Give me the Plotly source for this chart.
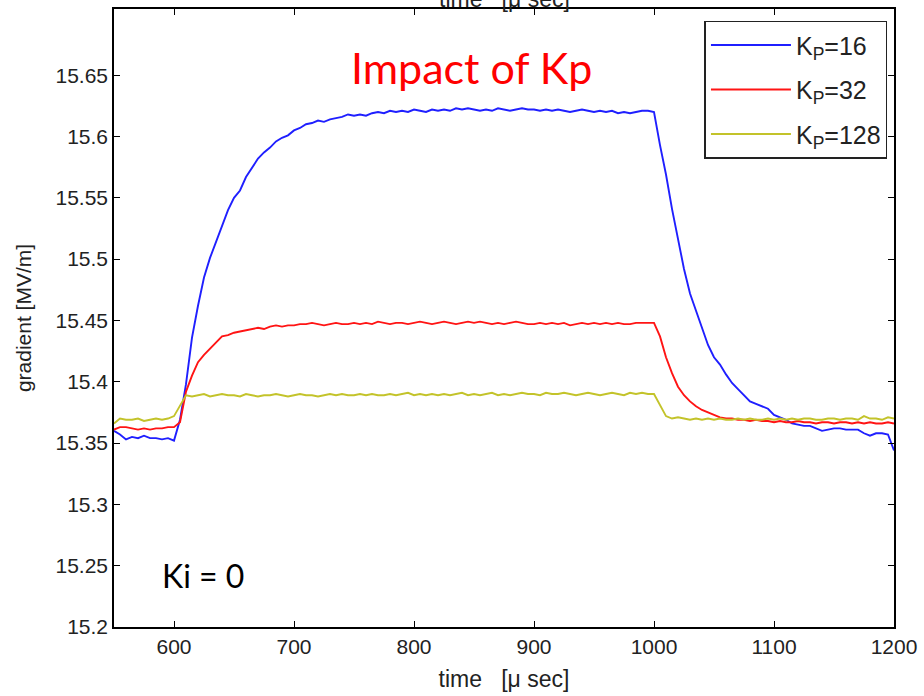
import plotly.graph_objects as go

# time axis in microseconds
TIME = [
    550, 555, 560, 565, 570, 575, 580, 585, 590, 595,
    600, 605, 610, 615, 620, 625, 630, 635, 640, 645,
    650, 655, 660, 665, 670, 675, 680, 685, 690, 695,
    700, 705, 710, 715, 720, 725, 730, 735, 740, 745,
    750, 755, 760, 765, 770, 775, 780, 785, 790, 795,
    800, 805, 810, 815, 820, 825, 830, 835, 840, 845,
    850, 855, 860, 865, 870, 875, 880, 885, 890, 895,
    900, 905, 910, 915, 920, 925, 930, 935, 940, 945,
    950, 955, 960, 965, 970, 975, 980, 985, 990, 995,
    1000, 1005, 1010, 1015, 1020, 1025, 1030, 1035, 1040, 1045,
    1050, 1055, 1060, 1065, 1070, 1075, 1080, 1085, 1090, 1095,
    1100, 1105, 1110, 1115, 1120, 1125, 1130, 1135, 1140, 1145,
    1150, 1155, 1160, 1165, 1170, 1175, 1180, 1185, 1190, 1195,
    1200,
]

# accelerating gradient [MV/m] for each proportional gain
GRAD_KP16 = [
    15.360, 15.357, 15.353, 15.355, 15.354, 15.356, 15.354, 15.354, 15.353, 15.354,
    15.352, 15.369, 15.398, 15.436, 15.462, 15.485, 15.501, 15.514, 15.526, 15.540,
    15.550, 15.556, 15.567, 15.575, 15.582, 15.587, 15.591, 15.596, 15.599, 15.601,
    15.605, 15.607, 15.610, 15.611, 15.613, 15.612, 15.614, 15.615, 15.616, 15.618,
    15.617, 15.618, 15.617, 15.619, 15.620, 15.619, 15.621, 15.620, 15.621, 15.620,
    15.622, 15.621, 15.620, 15.622, 15.621, 15.622, 15.621, 15.623, 15.622, 15.623,
    15.622, 15.621, 15.622, 15.621, 15.623, 15.622, 15.621, 15.622, 15.623, 15.622,
    15.622, 15.621, 15.622, 15.621, 15.622, 15.621, 15.620, 15.621, 15.622, 15.621,
    15.620, 15.621, 15.620, 15.621, 15.619, 15.620, 15.619, 15.620, 15.621, 15.621,
    15.620, 15.593, 15.569, 15.541, 15.516, 15.492, 15.472, 15.458, 15.443, 15.430,
    15.420, 15.414, 15.406, 15.399, 15.394, 15.389, 15.384, 15.382, 15.380, 15.378,
    15.373, 15.371, 15.369, 15.366, 15.365, 15.364, 15.364, 15.362, 15.360, 15.361,
    15.362, 15.362, 15.361, 15.361, 15.361, 15.358, 15.356, 15.358, 15.358, 15.357,
    15.344,
]

GRAD_KP32 = [
    15.361, 15.363, 15.363, 15.362, 15.361, 15.362, 15.361, 15.362, 15.362, 15.363,
    15.363, 15.367, 15.392, 15.405, 15.416, 15.422, 15.427, 15.432, 15.437, 15.438,
    15.440, 15.441, 15.442, 15.443, 15.444, 15.443, 15.445, 15.446, 15.445, 15.446,
    15.446, 15.447, 15.447, 15.448, 15.447, 15.446, 15.447, 15.448, 15.447, 15.447,
    15.448, 15.447, 15.448, 15.447, 15.449, 15.448, 15.447, 15.448, 15.448, 15.447,
    15.448, 15.449, 15.448, 15.447, 15.448, 15.449, 15.448, 15.447, 15.448, 15.449,
    15.448, 15.449, 15.448, 15.447, 15.448, 15.447, 15.448, 15.449, 15.448, 15.447,
    15.447, 15.448, 15.447, 15.448, 15.447, 15.448, 15.446, 15.447, 15.448, 15.447,
    15.448, 15.447, 15.448, 15.447, 15.448, 15.447, 15.447, 15.448, 15.448, 15.448,
    15.448, 15.437, 15.420, 15.407, 15.396, 15.389, 15.384, 15.380, 15.377, 15.375,
    15.373, 15.371, 15.370, 15.370, 15.369, 15.369, 15.368, 15.369, 15.368, 15.368,
    15.367, 15.368, 15.367, 15.367, 15.368, 15.367, 15.367, 15.366, 15.367, 15.367,
    15.366, 15.367, 15.367, 15.366, 15.367, 15.366, 15.367, 15.366, 15.366, 15.367,
    15.366,
]

GRAD_KP128 = [
    15.366, 15.370, 15.369, 15.369, 15.370, 15.368, 15.369, 15.370, 15.369, 15.370,
    15.372, 15.381, 15.389, 15.388, 15.389, 15.390, 15.388, 15.389, 15.390, 15.389,
    15.389, 15.388, 15.390, 15.389, 15.388, 15.389, 15.389, 15.390, 15.389, 15.388,
    15.389, 15.390, 15.389, 15.389, 15.388, 15.389, 15.390, 15.389, 15.390, 15.389,
    15.389, 15.390, 15.389, 15.390, 15.389, 15.389, 15.390, 15.389, 15.390, 15.391,
    15.389, 15.390, 15.389, 15.390, 15.389, 15.390, 15.389, 15.390, 15.391, 15.389,
    15.390, 15.389, 15.390, 15.391, 15.389, 15.390, 15.389, 15.390, 15.391, 15.390,
    15.390, 15.389, 15.391, 15.390, 15.390, 15.391, 15.390, 15.389, 15.390, 15.391,
    15.390, 15.389, 15.390, 15.391, 15.390, 15.389, 15.391, 15.390, 15.391, 15.390,
    15.390, 15.381, 15.372, 15.370, 15.371, 15.370, 15.369, 15.370, 15.369, 15.370,
    15.369, 15.370, 15.369, 15.369, 15.370, 15.369, 15.370, 15.369, 15.369, 15.370,
    15.369, 15.370, 15.369, 15.370, 15.369, 15.370, 15.370, 15.369, 15.369, 15.370,
    15.370, 15.369, 15.370, 15.370, 15.369, 15.372, 15.370, 15.370, 15.369, 15.371,
    15.370,
]

SERIES = [
    ("K<sub>P</sub>=16", GRAD_KP16, "#1f1fff"),
    ("K<sub>P</sub>=32", GRAD_KP32, "#ff1414"),
    ("K<sub>P</sub>=128", GRAD_KP128, "#c3c32a"),
]

X_TICKS = [600, 700, 800, 900, 1000, 1100, 1200]
Y_TICKS = [15.2, 15.25, 15.3, 15.35, 15.4, 15.45, 15.5, 15.55, 15.6, 15.65]
Y_TICK_TEXT = ["15.2", "15.25", "15.3", "15.35", "15.4", "15.45", "15.5", "15.55", "15.6", "15.65"]

FAMILY = "Liberation Sans, Arial, sans-serif"
AXIS_FONT = dict(family=FAMILY, size=21, color="#222222")

fig = go.Figure()
for i, (name, values, color) in enumerate(SERIES):
    fig.add_trace(go.Scatter(
        x=TIME, y=values, mode="lines", name=name,
        legendgroup=str(i),
        line=dict(color=color, width=1.9),
    ))

axis_common = dict(
    showline=True, linecolor="black", linewidth=1.5, mirror="ticks",
    ticks="inside", ticklen=6, tickwidth=1.2, tickcolor="black",
    showgrid=False, zeroline=False, tickfont=AXIS_FONT,
    ticklabeloverflow="allow",
)

fig.update_layout(
    width=924, height=696,
    margin=dict(l=114, r=24, t=7, b=69),
    paper_bgcolor="white", plot_bgcolor="white",
    showlegend=True,
    legend=dict(
        x=0.757, y=0.981, xanchor="left", yanchor="top",
        bgcolor="white", bordercolor="#222222", borderwidth=1.5,
        font=dict(family=FAMILY, size=25, color="#222222"),
        itemwidth=80, tracegroupgap=9,
    ),
    xaxis=dict(
        range=[550, 1200], tickvals=X_TICKS, **axis_common,
        title=dict(text="time   [\u03bc sec]", font=dict(AXIS_FONT, size=23), standoff=14),
    ),
    yaxis=dict(
        range=[15.2, 15.704], tickvals=Y_TICKS, ticktext=Y_TICK_TEXT, **axis_common,
        title=dict(text="gradient [MV/m]", font=AXIS_FONT, standoff=18),
    ),
    annotations=[
        dict(text="Impact of Kp", x=848, y=15.656, xref="x", yref="y",
             showarrow=False, font=dict(family="Lato, sans-serif", size=43, color="#ff0000")),
        dict(text="Ki = 0", x=624, y=15.242, xref="x", yref="y",
             showarrow=False, font=dict(family="Lato, sans-serif", size=32, color="black")),
        # title of the upper panel, mostly above the page edge
        dict(text="time   [\u03bc sec]", x=0.5, y=1, xref="paper", yref="paper",
             xanchor="center", yanchor="bottom", yshift=-5, showarrow=False,
             font=dict(AXIS_FONT, size=23)),
    ],
)

fig.write_html("out.html")
